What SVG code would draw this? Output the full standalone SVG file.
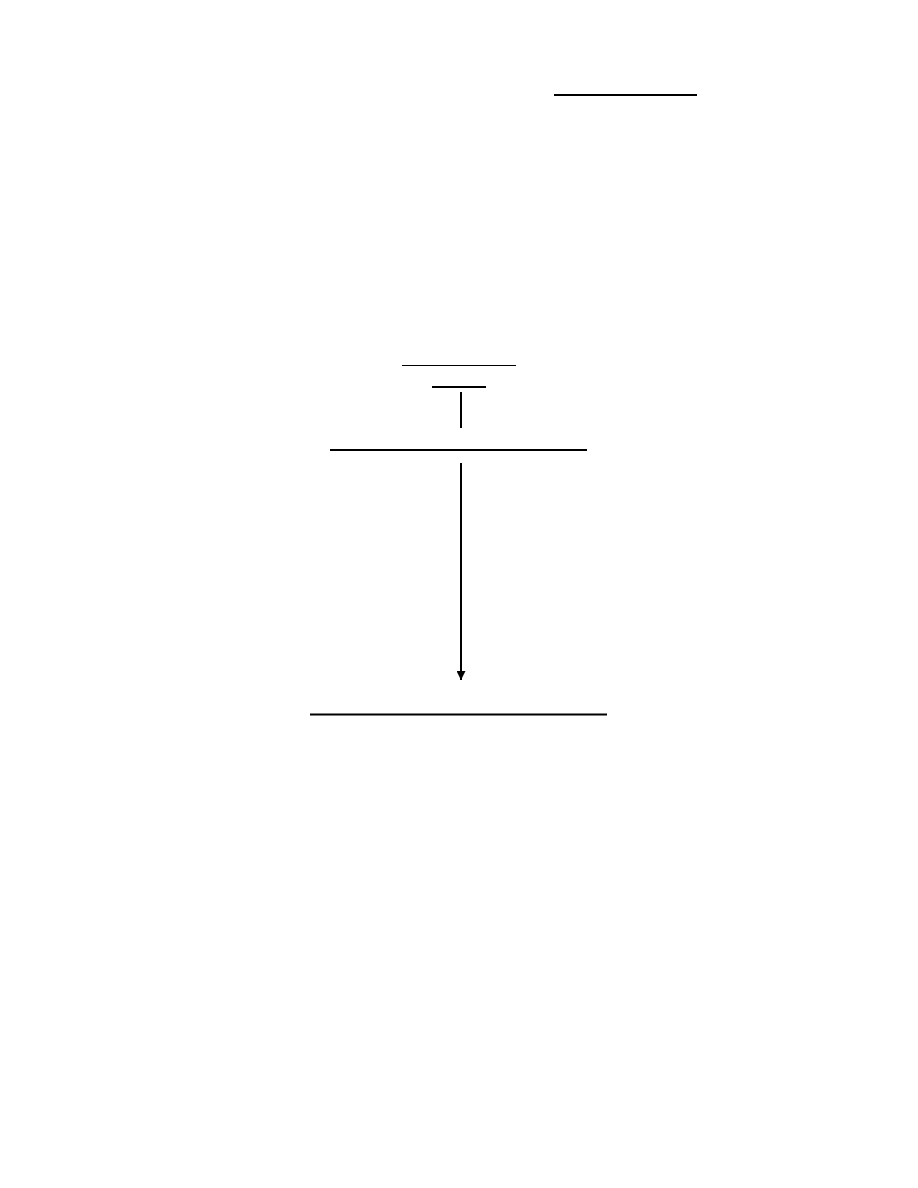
<svg xmlns="http://www.w3.org/2000/svg" width="918" height="1188" viewBox="0 0 918 1188">
<style>
.l{stroke:#000;stroke-width:2;fill:none}
.t{stroke:#000;stroke-width:1;fill:none}
</style>
<defs>
<marker id="ah" markerWidth="9" markerHeight="9" refX="9" refY="4.5" orient="auto" markerUnits="userSpaceOnUse">
<path d="M0,0 L9,4.5 L0,9 Z" fill="#000"/>
</marker>
</defs>
<rect width="918" height="1188" fill="#fff"/>
<g id="n1"><line class="l" x1="554" y1="95" x2="697" y2="95"/></g>
<g id="n2"><line class="t" x1="402" y1="365.5" x2="516" y2="365.5"/></g>
<g id="n3"><line class="l" x1="432" y1="387" x2="486" y2="387"/></g>
<g id="n4"><line class="l" x1="330" y1="450" x2="587" y2="450"/></g>
<g id="n5"><line class="l" x1="310" y1="714.5" x2="607" y2="714.5"/></g>
<g id="connectors">
<line class="l" x1="461" y1="392" x2="461" y2="428"/>
<line class="l" x1="461" y1="463" x2="461" y2="680" marker-end="url(#ah)"/>
</g>
</svg>
